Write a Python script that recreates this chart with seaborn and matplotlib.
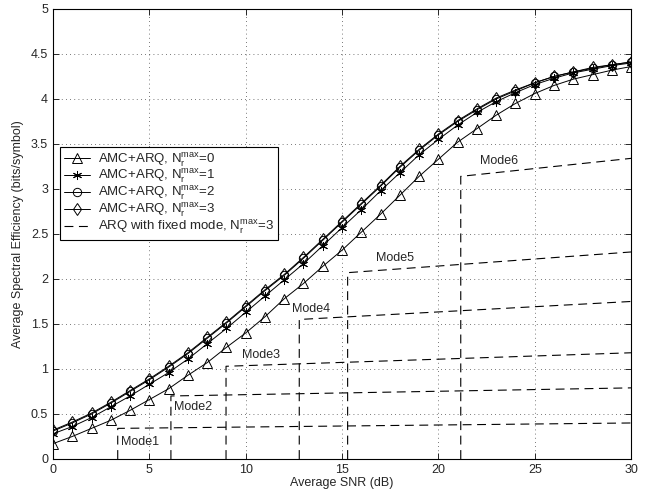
import numpy as np
import pandas as pd
import seaborn as sns
import matplotlib
matplotlib.use("Agg")
import matplotlib.pyplot as plt

# SNR grid (dB)
snr = list(range(0, 31))

# AMC+ARQ curves
se_n0 = [0.17, 0.25, 0.34, 0.43, 0.54, 0.66, 0.78, 0.93, 1.07, 1.24, 1.40,
         1.58, 1.78, 1.95, 2.14, 2.32, 2.52, 2.72, 2.93, 3.14, 3.33, 3.52,
         3.67, 3.82, 3.95, 4.06, 4.15, 4.22, 4.27, 4.32, 4.36]
se_n1 = [0.28, 0.36, 0.46, 0.58, 0.70, 0.83, 0.96, 1.11, 1.28, 1.45, 1.63,
         1.81, 1.99, 2.17, 2.37, 2.57, 2.77, 2.98, 3.18, 3.38, 3.55, 3.71,
         3.85, 3.97, 4.07, 4.16, 4.23, 4.29, 4.33, 4.37, 4.40]
se_n2 = [0.31, 0.40, 0.50, 0.62, 0.75, 0.88, 1.02, 1.17, 1.34, 1.51, 1.69,
         1.87, 2.04, 2.23, 2.43, 2.63, 2.83, 3.03, 3.24, 3.43, 3.60, 3.75,
         3.88, 4.00, 4.09, 4.18, 4.25, 4.30, 4.34, 4.38, 4.41]
se_n3 = [0.32, 0.41, 0.51, 0.63, 0.76, 0.89, 1.03, 1.18, 1.35, 1.52, 1.70,
         1.88, 2.05, 2.24, 2.44, 2.64, 2.84, 3.04, 3.25, 3.44, 3.61, 3.76,
         3.89, 4.01, 4.10, 4.18, 4.25, 4.30, 4.35, 4.38, 4.41]

# fixed-mode ARQ: switching threshold, value at threshold, value at 30 dB
mode_names = ["Mode1", "Mode2", "Mode3", "Mode4", "Mode5", "Mode6"]
mode_thr = [3.36, 6.12, 8.98, 12.78, 15.29, 21.16]
mode_start = [0.34, 0.70, 1.03, 1.55, 2.07, 3.14]
mode_end = [0.40, 0.79, 1.18, 1.75, 2.30, 3.34]
mode_label_x = [3.55, 6.28, 9.8, 12.4, 16.75, 22.16]
mode_label_y = [0.19, 0.58, 1.15, 1.67, 2.23, 3.31]

sns.set_style("ticks")
plt.rcParams["font.family"] = ["Liberation Sans", "DejaVu Sans"]
plt.rcParams["mathtext.fontset"] = "custom"
plt.rcParams["mathtext.rm"] = "Liberation Sans"
plt.rcParams["mathtext.it"] = "Liberation Sans"

fig = plt.figure(figsize=(6.54, 4.97), dpi=100)
ax = fig.add_axes([0.081, 0.0765, 0.884, 0.9055])

asterisk = (6, 2, 0)
curves = [
    (se_n0, "^", 6.5, r"AMC+ARQ, N$_r^{\rm max}$=0"),
    (se_n1, asterisk, 6.5, r"AMC+ARQ, N$_r^{\rm max}$=1"),
    (se_n2, "o", 6, r"AMC+ARQ, N$_r^{\rm max}$=2"),
    (se_n3, "d", 6.5, r"AMC+ARQ, N$_r^{\rm max}$=3"),
]
for vals, mk, ms, lab in curves:
    sns.lineplot(x=snr, y=vals, ax=ax, color="k", lw=0.7, marker=mk,
                 markersize=ms, markerfacecolor="none", markeredgecolor="k",
                 markeredgewidth=0.7, label=lab)

for i, name in enumerate(mode_names):
    df = pd.DataFrame({
        "x": [mode_thr[i], mode_thr[i], 30],
        "y": [0, mode_start[i], mode_end[i]],
    })
    sns.lineplot(data=df, x="x", y="y", ax=ax, sort=False, estimator=None,
                 color="k", lw=0.8, dashes=False, linestyle=(0, (8, 5)),
                 label=r"ARQ with fixed mode, N$_r^{\rm max}$=3" if i == 0 else None)
    ax.text(mode_label_x[i], mode_label_y[i], name, fontsize=9,
            va="center", ha="left")

ax.set_xlim(0, 30)
ax.set_ylim(0, 5)
ax.set_xticks(np.arange(0, 31, 5))
ax.set_yticks(np.arange(0, 5.01, 0.5))
ax.set_yticklabels(["0", "0.5", "1", "1.5", "2", "2.5", "3", "3.5", "4",
                    "4.5", "5"])
ax.tick_params(direction="in", top=True, right=True, labelsize=9,
               length=4, width=0.7)
ax.grid(True, color="k", linestyle=(0, (1, 4)), lw=0.6, alpha=0.7)
for sp in ax.spines.values():
    sp.set_linewidth(0.8)
    sp.set_color("k")
ax.set_xlabel("Average SNR (dB)", fontsize=9, labelpad=1)
ax.set_ylabel("Average Spectral Efficiency (bits/symbol)", fontsize=9,
              labelpad=5)

leg = ax.legend(loc="upper left", bbox_to_anchor=(0.012, 0.693),
                borderaxespad=0, fontsize=9.5, frameon=True, fancybox=False,
                framealpha=1, edgecolor="k", handlelength=2.0, borderpad=0.3,
                labelspacing=-0.05, handletextpad=0.6)
leg.get_frame().set_linewidth(0.8)

fig.savefig("out.png", dpi=100)
